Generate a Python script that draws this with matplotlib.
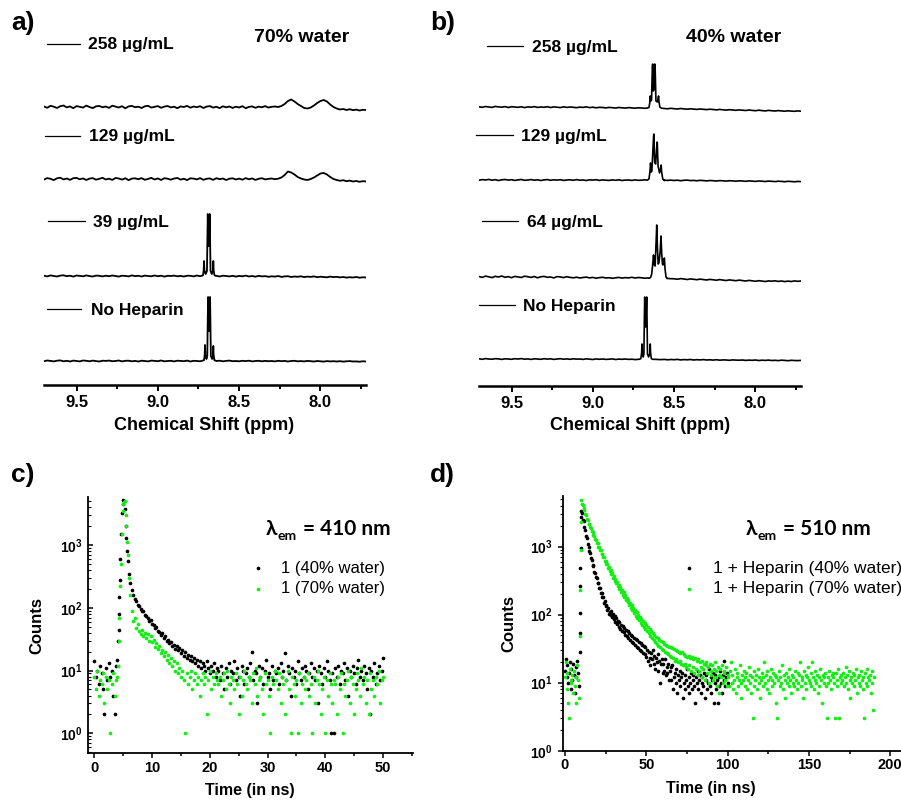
import numpy as np
import matplotlib
matplotlib.use("Agg")
import matplotlib.pyplot as plt
from matplotlib.ticker import LogLocator, NullFormatter

plt.rcParams['font.family'] = ['Liberation Sans', 'DejaVu Sans']
plt.rcParams['mathtext.fontset'] = 'custom'
plt.rcParams['mathtext.rm'] = 'Liberation Sans'
plt.rcParams['mathtext.bf'] = 'Liberation Sans:bold'

W, H = 901, 800
GREEN = '#11ee11'

# ---------------- 1H NMR spectra (intensity in px above each baseline) ----------------
ppm_grid = np.linspace(9.70, 7.72, 100)
nmr_major = [9.5, 9.0, 8.5, 8.0]
nmr_minor = [9.25, 8.75, 8.25, 7.75]

a_258_base = [0.5, -0.8, 1.2, 0.3, -1.0, 0.8, 1.5, -0.4, 0.6, -1.2,
              0.9, 0.2, -0.6, 1.4, 0.0, -1.1, 0.7, 1.0, -0.3, 0.5,
              -0.9, 1.3, 0.4, -0.5, 0.8, -1.3, 0.6, 1.1, -0.2, 0.3,
              -1.0, 0.7, 1.2, -0.6, 0.2, 0.9, -0.8, 0.4, 1.0, -0.4,
              0.3, -1.2, 0.6, 0.0, 1.1, -0.7, 0.5, -0.2, 0.8, -1.0,
              0.4, 0.9, -0.6, 0.2, -1.1, 0.7, -0.3, 0.5, -0.9, 0.3,
              -0.5, 0.8, -1.2, 0.1, 0.6, -0.8, 0.4, -0.3, 0.9, -0.6,
              0.2, 0.5, 0.0, 1.0, 3.0, 6.0, 7.5, 5.5, 3.0, 1.0,
              -1.0, -1.5, -0.5, 1.5, 4.0, 6.0, 7.0, 5.5, 2.5, 0.0,
              -1.5, -2.5, -2.0, -3.0, -2.2, -3.2, -2.6, -3.5, -2.8, -3.0]
a_129_base = [-0.6, 0.9, 0.2, -1.1, 0.7, 1.3, -0.4, 0.5, -0.9, 0.8,
              1.1, -0.3, 0.6, -1.0, 0.4, 0.9, -0.7, 0.2, 1.2, -0.5,
              0.3, -0.9, 1.0, 0.5, -0.6, 0.8, -1.2, 0.4, 0.7, -0.2,
              0.9, -0.8, 0.1, 1.1, -0.5, 0.6, -1.0, 0.8, 0.3, -0.7,
              0.5, 1.0, -0.6, 0.2, -1.1, 0.7, 0.4, -0.4, 0.9, -0.8,
              0.2, 0.6, -0.9, 0.8, -0.2, 0.5, -1.0, 0.3, 0.7, -0.5,
              0.4, -0.7, 0.9, -0.3, 0.6, -0.9, 0.2, 0.8, -0.4, 0.1,
              0.5, -0.2, 0.3, 1.5, 4.0, 7.5, 6.5, 4.5, 2.0, 0.5,
              -0.5, -1.0, 0.0, 1.5, 3.5, 5.5, 6.0, 4.5, 2.0, 0.0,
              -1.0, -1.8, -1.2, -2.2, -1.6, -2.5, -2.0, -2.8, -2.2, -2.4]
a_39_base = [0.3, -0.4, 0.6, 0.0, -0.5, 0.4, 0.7, -0.2, 0.3, -0.6,
             0.5, 0.1, -0.3, 0.6, -0.1, -0.5, 0.4, 0.2, -0.4, 0.3,
             -0.2, 0.5, 0.0, -0.6, 0.3, 0.1, -0.4, 0.6, -0.1, 0.2,
             -0.5, 0.4, 0.0, -0.3, 0.5, -0.2, 0.3, -0.6, 0.2, 0.0,
             0.4, -0.3, 0.1, -0.5, 0.3, 0.2, -0.4, 0.5, -0.2, 0.1,
             -0.3, 0.4, -0.1, 0.2, -0.5, 0.3, 0.0, -0.4, 0.2, -0.6,
             0.1, -0.3, 0.4, -0.5, 0.0, -0.7, 0.2, -0.4, -0.1, -0.8,
             -0.3, -0.6, 0.0, -0.9, -0.4, -0.2, -1.0, -0.5, -0.8, -0.3,
             -1.1, -0.6, -0.9, -0.4, -1.2, -0.7, -1.0, -1.3, -0.6, -1.1,
             -0.8, -1.4, -1.0, -1.6, -1.2, -1.5, -1.0, -1.7, -1.3, -1.5]
a_39_pk_ppm = [8.730, 8.722, 8.718, 8.716, 8.714, 8.706, 8.698, 8.695, 8.693, 8.690, 8.687,
               8.684, 8.681, 8.679, 8.676, 8.668, 8.661, 8.659, 8.657, 8.652, 8.645]
a_39_pk_int = [0.2, 0.8, 6, 15, 6, 2, 5, 40, 62, 45, 30, 45, 62, 40, 5, 2, 6, 15, 6, 0.8, 0.2]
a_nh_base = [-0.2, 0.5, 0.1, -0.4, 0.3, 0.6, -0.3, 0.2, -0.5, 0.4,
             0.0, -0.4, 0.5, 0.2, -0.3, 0.4, -0.1, -0.5, 0.3, 0.1,
             0.4, -0.2, 0.0, 0.5, -0.4, 0.2, 0.3, -0.3, 0.1, -0.5,
             0.3, 0.0, -0.4, 0.4, 0.1, -0.2, 0.5, -0.3, 0.0, 0.2,
             -0.4, 0.3, 0.1, -0.2, 0.4, -0.5, 0.2, 0.0, -0.3, 0.3,
             0.1, -0.4, 0.2, 0.0, 0.3, -0.3, 0.1, 0.4, -0.2, 0.0,
             -0.3, 0.2, -0.1, 0.3, -0.4, 0.0, 0.2, -0.3, 0.1, -0.2,
             0.0, -0.4, 0.2, -0.2, 0.1, -0.5, 0.0, 0.2, -0.3, -0.1,
             -0.4, 0.1, -0.2, -0.5, 0.0, -0.3, -0.6, -0.1, -0.4, -0.2,
             -0.5, -0.2, -0.6, -0.3, -0.1, -0.5, -0.4, -0.7, -0.3, -0.5]
a_nh_pk_ppm = [8.728, 8.716, 8.712, 8.710, 8.708, 8.701, 8.696, 8.693, 8.691, 8.688, 8.685,
               8.682, 8.679, 8.677, 8.674, 8.666, 8.661, 8.659, 8.657, 8.652, 8.643]
a_nh_pk_int = [0.2, 0.8, 6, 16, 6, 2, 5, 42, 64, 46, 30, 46, 64, 42, 5, 2, 6, 15, 6, 0.8, 0.2]

b_258_base = [0.2, -0.3, 0.5, 0.0, -0.4, 0.6, 0.1, -0.2, 0.4, -0.5,
              0.3, 0.0, -0.3, 0.2, -0.6, 0.1, -0.2, 0.4, -0.4, 0.0,
              -0.3, 0.3, -0.5, 0.1, -0.2, -0.6, 0.2, -0.4, 0.0, -0.3,
              -0.7, -0.1, -0.4, 0.1, -0.6, -0.2, -0.8, -0.3, -0.5, -0.9,
              -0.4, -0.7, -1.0, -0.5, -0.8, -1.1, -0.6, -0.9, -1.2, -0.8,
              -1.0, -1.3, -0.9, -1.4, -1.1, -1.6, -1.2, -1.5, -1.8, -1.3,
              -1.7, -2.0, -1.5, -1.9, -2.2, -1.8, -2.1, -2.4, -2.0, -2.3,
              -2.6, -2.2, -2.5, -2.9, -2.4, -2.8, -3.1, -2.7, -3.0, -3.3,
              -2.9, -3.2, -3.5, -3.0, -3.4, -3.7, -3.2, -3.6, -3.9, -3.4,
              -3.7, -4.0, -3.6, -3.9, -4.2, -3.8, -4.1, -4.3, -3.9, -4.2]
b_258_pk_ppm = [8.665, 8.655, 8.650, 8.647, 8.644, 8.639, 8.634, 8.632, 8.628, 8.624,
                8.619, 8.617, 8.612, 8.603, 8.599, 8.596, 8.593, 8.588, 8.578]
b_258_pk_int = [-1.0, -0.5, 4, 11, 6, 7, 40, 43, 16, 18, 43, 40, 6, 5, 8, 11, 5, 0, -1.2]
b_129_base = [-0.3, 0.4, 0.0, 0.6, -0.2, 0.3, -0.5, 0.2, 0.5, -0.1,
              0.3, -0.4, 0.1, 0.5, -0.3, 0.0, 0.4, -0.2, 0.2, -0.5,
              0.1, 0.4, -0.3, 0.2, -0.1, 0.3, -0.4, 0.0, 0.2, -0.3,
              0.4, -0.2, 0.0, -0.5, 0.2, -0.1, 0.3, -0.4, 0.1, -0.2,
              -0.4, 0.1, -0.3, 0.2, -0.5, -0.1, 0.0, -0.4, 0.1, -0.3,
              -0.2, 0.2, -0.5, -0.1, -0.3, 0.0, -0.6, -0.2, -0.4, -0.1,
              -0.5, -0.2, -0.7, -0.3, -0.1, -0.6, -0.4, -0.8, -0.3, -0.6,
              -0.9, -0.5, -0.7, -1.0, -0.6, -0.8, -1.1, -0.7, -0.9, -1.2,
              -0.8, -1.0, -1.3, -0.9, -1.1, -1.4, -1.0, -1.2, -1.5, -1.1,
              -1.3, -1.6, -1.2, -1.4, -1.7, -1.3, -1.5, -1.8, -1.4, -1.6]
b_129_pk_ppm = [8.665, 8.655, 8.649, 8.645, 8.641, 8.637, 8.627, 8.625, 8.620, 8.614,
                8.606, 8.604, 8.599, 8.590, 8.583, 8.580, 8.577, 8.570, 8.560]
b_129_pk_int = [-0.2, 1, 8, 17, 8, 9, 42, 46, 18, 16, 36, 38, 14, 7, 12, 15, 8, 1, -0.5]
b_64_base = [0.5, -0.4, 0.9, 0.2, -0.6, 0.7, 0.0, 1.0, -0.3, 0.4,
             -0.7, 0.6, 0.1, -0.5, 0.8, 0.3, -0.4, 0.5, -0.8, 0.2,
             0.6, -0.3, 0.0, -0.9, 0.4, 0.1, -0.6, 0.3, -0.4, -0.8,
             -0.2, -1.0, -0.5, -0.1, -0.9, -0.4, -1.2, -0.6, -0.3, -1.0,
             -0.7, -1.3, -0.8, -0.4, -1.1, -0.6, -0.9, -0.3, -1.0, -0.5,
             -0.8, -1.2, -1.0, -1.4, -1.2, -1.5, -1.3, -1.6, -1.4, -1.7,
             -1.8, -2.2, -1.6, -2.0, -2.5, -1.9, -2.3, -2.7, -2.1, -2.6,
             -3.0, -2.4, -2.8, -3.2, -2.6, -3.1, -3.5, -2.9, -3.3, -3.7,
             -3.1, -3.6, -4.0, -3.4, -3.8, -4.3, -3.7, -4.1, -4.5, -3.9,
             -4.2, -3.8, -4.4, -4.0, -4.6, -4.1, -4.5, -3.9, -4.3, -4.0]
b_64_pk_ppm = [8.655, 8.645, 8.638, 8.631, 8.627, 8.622, 8.617, 8.611, 8.607, 8.603, 8.598,
               8.594, 8.586, 8.581, 8.577, 8.572, 8.569, 8.563, 8.560, 8.556, 8.550, 8.543]
b_64_pk_int = [-1.3, -0.5, 3, 14, 22, 12, 11, 35, 52, 30, 13, 14, 25, 41, 25, 13, 12, 17, 19, 8, 0, -1.6]
b_nh_base = [0.2, -0.3, 0.4, 0.0, -0.2, 0.3, 0.1, -0.4, 0.2, 0.0,
             -0.3, 0.3, 0.0, 0.4, -0.2, 0.1, -0.4, 0.2, 0.0, -0.3,
             0.3, -0.1, 0.2, -0.4, 0.0, 0.3, -0.2, 0.1, -0.3, 0.2,
             -0.1, 0.0, -0.4, 0.2, -0.2, -0.5, 0.1, -0.3, 0.0, -0.4,
             -0.2, 0.1, -0.5, -0.1, -0.3, 0.0, -0.4, -0.2, -0.6, -0.3,
             -0.5, -0.2, -0.4, -0.7, -0.3, -0.5, -0.6, -0.4, -0.8, -0.5,
             -0.7, -0.4, -0.9, -0.6, -0.8, -0.5, -1.0, -0.7, -0.9, -0.6,
             -1.0, -0.8, -1.1, -0.7, -1.2, -0.9, -1.0, -1.3, -0.9, -1.1,
             -1.2, -1.0, -1.4, -1.1, -1.3, -1.0, -1.5, -1.2, -1.4, -1.1,
             -1.5, -1.3, -1.6, -1.2, -1.4, -1.7, -1.3, -1.5, -1.6, -1.4]
b_nh_pk_ppm = [8.715, 8.705, 8.700, 8.698, 8.696, 8.690, 8.686, 8.683, 8.681, 8.678, 8.675,
               8.672, 8.669, 8.667, 8.664, 8.657, 8.649, 8.647, 8.645, 8.640, 8.630]
b_nh_pk_int = [-0.3, 0.3, 6, 15, 6, 2, 5, 42, 62, 45, 32, 45, 62, 42, 5, 2, 6, 15, 6, 0.3, -0.4]

# ---------------- fluorescence decays (counts per channel) ----------------
c_time = np.linspace(0, 50, 201)
c_black = [14, 8, 10, 6, 12, 9, 5, 2, 11, 7, 13, 8, 10, 4, 2, 12, 15,
           80, 600, 3200, 5200, 3800,
           1300, 560, 340, 250, 195, 160, 140, 128, 110, 108, 96, 90, 88, 78, 74, 70,
           62, 64, 55, 54, 47, 49, 42, 41, 37, 39, 33, 35, 30, 31, 27, 29, 25, 26,
           22, 25, 21, 23, 19, 21, 17, 20, 16, 18, 15, 17, 14, 16, 13, 15, 12, 14,
           11, 13, 12, 10, 14, 11, 9, 12, 10, 13, 8, 11,
           10, 7, 12, 9, 5, 11, 8, 13, 6, 10, 9, 14, 7, 11, 8, 4, 12, 10, 6, 9,
           11, 8, 13, 20, 7, 10, 9, 3, 12, 8, 11, 6, 10, 15, 8, 9, 5, 12, 7, 10,
           9, 11, 6, 13, 8, 10, 19, 7, 12, 9, 4, 11, 8, 10, 6, 14, 9, 7, 11, 8,
           12, 10, 5, 9, 13, 8, 11, 7, 10, 3, 12, 9, 6, 11, 8, 14, 10, 7, 1, 9,
           1, 11, 8, 12, 6, 10, 9, 13, 7, 11, 4, 10, 8, 12, 9, 6, 11, 15, 8, 10,
           7, 12, 9, 5, 11, 2, 10, 8, 13, 6, 9, 12, 7, 10, 16]
c_green = [8, 5, 10, 4, 7, 6, 9, 3, 8, 5, 7, 1, 6, 9, 4, 7, 8,
           30, 220, 1500, 4600, 5000,
           2000, 700, 300, 160, 90, 62, 70, 48, 55, 42, 38, 45, 36, 40, 33, 38,
           30, 35, 28, 31, 24, 27, 22, 25, 19, 21, 17, 20, 15, 18, 13, 16, 12, 14,
           10, 13, 9, 11, 8, 10, 7, 1, 9, 6, 8, 10, 5, 7, 9, 6, 8, 4,
           7, 9, 6, 8, 2, 7, 10, 5, 8, 6, 9, 7,
           6, 8, 4, 7, 9, 5, 10, 6, 3, 8, 7, 5, 9, 6, 2, 8, 4, 7, 10, 6,
           5, 8, 7, 3, 9, 6, 11, 4, 7, 8, 5, 2, 9, 6, 7, 4, 1, 8, 6, 10,
           7, 5, 9, 3, 8, 6, 2, 7, 10, 5, 1, 8, 6, 4, 7, 1, 9, 3, 6, 8,
           5, 7, 9, 4, 6, 1, 8, 3, 7, 10, 6, 2, 5, 8, 1, 7, 4, 9, 6, 3,
           7, 6, 2, 8, 5, 9, 1, 6, 4, 7, 10, 3, 8, 6, 2, 5, 9, 7, 4, 11,
           6, 8, 3, 7, 2, 9, 5, 7, 4, 8, 6, 10, 3, 7, 8]
c_black_rise_t = [4.1, 4.2, 4.35, 4.4, 4.6, 4.9, 5.4, 5.6]
c_black_rise = [30, 45, 150, 280, 1500, 4500, 2000, 800]
c_green_rise_t = [4.1, 4.35, 4.6, 4.9, 5.1, 5.4, 5.6]
c_green_rise = [12, 70, 500, 3500, 4900, 3000, 1100]

d_time_black = np.linspace(0, 100, 201)
d_black = [15, 22, 12, 18, 10, 14, 20, 8, 16, 11, 19, 13, 7, 17, 12, 21, 14, 9,
           28, 480,
           3400, 3100, 2500, 2350, 1950, 1750, 1450, 1320, 1080, 1000,
           850, 800, 680, 640, 540, 520, 430, 410, 360, 345,
           290, 290, 245, 245, 210, 205, 185, 180, 150, 158,
           132, 140, 118, 125, 102, 110, 100, 112, 92, 104,
           85, 96, 78, 88, 72, 82, 66, 77, 62, 71,
           58, 68, 55, 63, 51, 60, 48, 57, 45, 54,
           43, 51, 40, 49, 38, 46, 36, 44, 34, 42,
           32, 40, 30, 38, 29, 36, 27, 35, 26, 33, 24,
           30, 21, 28, 23, 18, 27, 22, 30, 19, 25,
           16, 23, 20, 26, 15, 21, 10, 19, 22, 14,
           19, 15, 22, 13, 17, 14, 19, 11, 15, 17,
           11, 18, 8, 12, 14, 10, 16, 7, 13, 11,
           15, 9, 12, 14, 6, 10, 13, 8, 11, 16,
           9, 12, 7, 10, 14, 8, 11, 13, 9, 5,
           12, 10, 15, 8, 11, 13, 7, 10, 12, 9,
           14, 6, 11, 13, 8, 10, 16, 9, 12, 7,
           11, 14, 5, 10, 13, 8, 11, 5, 12, 9,
           15, 10, 7, 13, 11, 21, 9, 12, 14, 10]
d_time_green = np.linspace(0, 190, 381)
d_green = [12, 20, 8, 14, 5, 3, 16, 11, 10, 13, 7, 15, 9, 12, 5, 18, 11, 6,
           48, 230,
           4800, 4300, 4100, 3650, 3450, 3050, 2900, 2580, 2450, 2180,
           2120, 1920, 1870, 1690, 1640, 1480, 1450, 1300, 1270, 1140,
           1120, 1000, 990, 890, 880, 780, 790, 700, 700, 615,
           620, 550, 560, 490, 500, 440, 450, 390, 405, 350,
           365, 318, 330, 290, 300, 262, 276, 240, 252, 218,
           230, 198, 212, 182, 195, 166, 178, 152, 164, 139,
           150, 127, 138, 116, 127, 106, 117, 96, 108, 89,
           100, 83, 93, 76, 87, 71, 81, 66, 75, 62,
           71, 57, 66, 53, 62, 49, 58, 45, 53, 42,
           50, 39, 47, 37, 45, 35, 43, 33, 41, 31,
           39, 30, 37, 28, 36, 27, 35, 26, 34, 25,
           33, 24, 32, 23, 31, 21, 30, 22, 29, 20,
           28, 21, 27, 19, 28, 18, 26, 19, 25, 17,
           24, 16, 25, 18, 23, 15, 24, 17, 22, 14,
           23, 16, 21, 13, 22, 15, 20, 17, 12, 21,
           16, 19, 11, 18, 20, 14, 17, 10, 19, 15,
           13, 18, 11, 16, 20, 12, 15, 9, 17, 13,
           7, 16, 12, 18, 10, 14, 15, 11, 17, 9,
           13,
           12, 9, 15, 20, 10, 13, 8, 11, 16, 7, 12, 14, 9, 11, 18, 10, 6, 13, 11, 15,
           9, 12, 14, 8, 11, 17, 10, 13, 7, 12, 3, 15, 9, 11, 13, 8, 16, 10, 12, 6,
           11, 14, 9, 12, 20, 10, 13, 8, 15, 11, 7, 12, 16, 9, 11, 14, 10, 13, 5, 12,
           3, 11, 15, 9, 12, 10, 18, 8, 13, 11, 6, 14, 10, 12, 9, 16, 11, 7, 13, 10,
           12, 9, 15, 11, 8, 14, 10, 13, 20, 9, 12, 11, 6, 15, 10, 13, 8, 12, 17, 11,
           10, 14, 9, 20, 12, 8, 11, 15, 10, 13, 7, 12, 9, 16, 11, 5, 13, 10, 12, 14,
           9, 3, 12, 10, 15, 11, 8, 13, 14, 12, 10, 3, 14, 9, 11, 16, 3, 12, 10, 13,
           11, 14, 9, 12, 17, 10, 13, 8, 15, 11, 6, 12, 10, 14, 9, 13, 11, 16, 7, 12,
           10, 13, 9, 15, 11, 8, 12, 3, 14, 10, 16, 9, 12, 11, 13, 7, 15, 10, 4, 12]
d_black_rise_t = [9.2, 9.3, 9.4, 9.6, 9.7]
d_black_rise = [54, 105, 260, 950, 2760]
d_green_rise_t = [9.6, 9.8]
d_green_rise = [900, 2300]

# ---------------- layout ----------------
fig = plt.figure(figsize=(W / 100, H / 100), dpi=100)


def box(x0, y0, x1, y1):
    # pixel box (y measured from top) -> figure fraction
    return [x0 / W, 1 - y1 / H, (x1 - x0) / W, (y1 - y0) / H]


def spectrum(base, pk_ppm=None, pk_int=None):
    x = ppm_grid
    y = np.asarray(base, float)
    if pk_ppm is None:
        return x, y
    keep = (x < min(pk_ppm)) | (x > max(pk_ppm))
    xs = np.concatenate([x[keep], pk_ppm])
    ys = np.concatenate([y[keep], pk_int])
    order = np.argsort(-xs)
    return xs[order], ys[order]


def nmr_axes(rect, ytop):
    ax = fig.add_axes(rect)
    ax.set_xlim(9.70, 7.72)
    ax.set_ylim(0, ytop)
    for s in ('left', 'right', 'top'):
        ax.spines[s].set_visible(False)
    ax.spines['bottom'].set_linewidth(1.8)
    ax.set_yticks([])
    ax.set_xticks(nmr_major)
    ax.set_xticklabels([f'{v:.1f}' for v in nmr_major], fontsize=12, fontweight='bold')
    ax.set_xticks(nmr_minor, minor=True)
    ax.tick_params(axis='x', which='major', length=4.5, width=1.4, pad=3)
    ax.tick_params(axis='x', which='minor', length=3, width=1.4)
    ax.patch.set_alpha(0)
    return ax


ax_a = nmr_axes(box(44, 5, 366, 385), 380)
for (base, pp, pi), off in zip([(a_258_base, None, None), (a_129_base, None, None),
                                (a_39_base, a_39_pk_ppm, a_39_pk_int),
                                (a_nh_base, a_nh_pk_ppm, a_nh_pk_int)],
                               [278, 206, 109, 24]):
    x, y = spectrum(base, pp, pi)
    ax_a.plot(x, y + off, color='black', lw=1.3)

ax_b = nmr_axes(box(479, 5, 801, 386), 381)
for (base, pp, pi), off in zip([(b_258_base, b_258_pk_ppm, b_258_pk_int),
                                (b_129_base, b_129_pk_ppm, b_129_pk_int),
                                (b_64_base, b_64_pk_ppm, b_64_pk_int),
                                (b_nh_base, b_nh_pk_ppm, b_nh_pk_int)],
                               [279, 206, 109, 27]):
    x, y = spectrum(base, pp, pi)
    ax_b.plot(x, y + off, color='black', lw=1.2)


def decay_axes(rect, xlim, ylim, xmajor, xminor, ydir):
    ax = fig.add_axes(rect)
    ax.set_yscale('log')
    ax.set_xlim(*xlim)
    ax.set_ylim(*ylim)
    ax.spines[['top', 'right']].set_visible(False)
    for s in ('left', 'bottom'):
        ax.spines[s].set_linewidth(1.3)
    ax.set_xticks(xmajor)
    ax.set_xticklabels([str(v) for v in xmajor], fontsize=10.5, fontweight='bold')
    ax.set_xticks(xminor, minor=True)
    ax.set_yticks([1, 10, 100, 1000])
    ax.set_yticklabels([r'$\mathbf{10^{%d}}$' % k for k in range(4)], fontsize=10)
    ax.yaxis.set_minor_locator(LogLocator(base=10, subs=np.arange(2, 10)))
    ax.yaxis.set_minor_formatter(NullFormatter())
    ax.tick_params(axis='x', which='major', length=3.5, width=1.1, pad=2)
    ax.tick_params(axis='x', which='minor', length=2.2, width=1.1)
    ax.tick_params(axis='y', which='major', direction=ydir, length=3.5, width=1.1, pad=4)
    ax.tick_params(axis='y', which='minor', direction=ydir, length=2, width=0.8)
    ax.patch.set_alpha(0)
    return ax


dot = dict(s=7, marker='o', linewidths=0)
ax_c = decay_axes(box(88, 497, 413, 753), (-1.1, 55.2), (0.485, 5840),
                  [0, 10, 20, 30, 40, 50], [5, 15, 25, 35, 45, 55], 'in')
ax_c.scatter(c_time, c_black, color='black', **dot)
ax_c.scatter(c_black_rise_t, c_black_rise, color='black', **dot)
ax_c.scatter(c_time, c_green, color=GREEN, **dot)
ax_c.scatter(c_green_rise_t, c_green_rise, color=GREEN, **dot)

ax_d = decay_axes(box(562.7, 496, 906.5, 750.7), (-1.4, 210), (1, 5560),
                  [0, 50, 100, 150, 200], [25, 75, 125, 175], 'out')
ax_d.scatter(d_time_black, d_black, color='black', **dot)
ax_d.scatter(d_black_rise_t, d_black_rise, color='black', **dot)
ax_d.scatter(d_time_green, d_green, color=GREEN, **dot)
ax_d.scatter(d_green_rise_t, d_green_rise, color=GREEN, **dot)

# ---------------- text overlay in pixel coordinates ----------------
ov = fig.add_axes([0, 0, 1, 1], zorder=10)
ov.set_xlim(0, W)
ov.set_ylim(H, 0)
ov.axis('off')

bold = dict(fontweight='bold', color='black')
for lbl, x, y in [('a)', 11, 23), ('b)', 430, 23), ('c)', 11, 475), ('d)', 430, 475)]:
    ov.text(x, y, lbl, fontsize=19, va='center', ha='left', **bold)

nmr_labels = [('258 µg/mL', 47, 80, 43.5, 88), ('129 µg/mL', 45, 80, 135.5, 89),
              ('39 µg/mL', 48, 85, 221, 93), ('No Heparin', 47, 81, 308.5, 91),
              ('258 µg/mL', 487, 523, 46, 532), ('129 µg/mL', 476, 513, 135, 521),
              ('64 µg/mL', 482, 518, 221, 527), ('No Heparin', 479, 515, 305, 523)]
for lbl, x0, x1, y, xt in nmr_labels:
    ov.plot([x0, x1], [y, y], color='black', lw=0.9)
    ov.text(xt, y, lbl, fontsize=12.5, va='center_baseline', ha='left', **bold)

ov.text(302, 38, '70% water', fontsize=14, va='center', ha='center', **bold)
ov.text(734, 38, '40% water', fontsize=14, va='center', ha='center', **bold)
ov.text(204, 426, 'Chemical Shift (ppm)', fontsize=13, va='center', ha='center', **bold)
ov.text(640, 426, 'Chemical Shift (ppm)', fontsize=13, va='center', ha='center', **bold)

ov.text(250, 790, 'Time (in ns)', fontsize=11.5, va='center', ha='center', **bold)
ov.text(711, 788, 'Time (in ns)', fontsize=11.5, va='center', ha='center', **bold)
ov.text(37, 625, 'Counts', fontsize=12, rotation=90, va='center', ha='center', **bold)
ov.text(509, 623, 'Counts', fontsize=12, rotation=90, va='center', ha='center', **bold)

lam_font = ['Lato', 'DejaVu Sans']
for x_lam, txt in [(266, '= 410 nm'), (746, '= 510 nm')]:
    ov.text(x_lam, 535, 'λ', fontsize=15, family=lam_font, va='baseline', **bold)
    ov.text(x_lam + 11, 540, 'em', fontsize=10, family=lam_font, va='baseline', **bold)
    ov.text(x_lam + 37, 535, txt, fontsize=15, family=lam_font, va='baseline', **bold)

for xm, xt, fs, names in [(258, 281, 12, ['1 (40% water)', '1 (70% water)']),
                          (689, 713, 12.5, ['1 + Heparin (40% water)', '1 + Heparin (70% water)'])]:
    for (yy, col, name) in zip([568, 589], ['black', GREEN], names):
        ov.scatter([xm], [yy], color=col, s=7, linewidths=0)
        ov.text(xt, yy, name, fontsize=fs, va='center', ha='left', color='black')

fig.savefig('out.png', dpi=100)
